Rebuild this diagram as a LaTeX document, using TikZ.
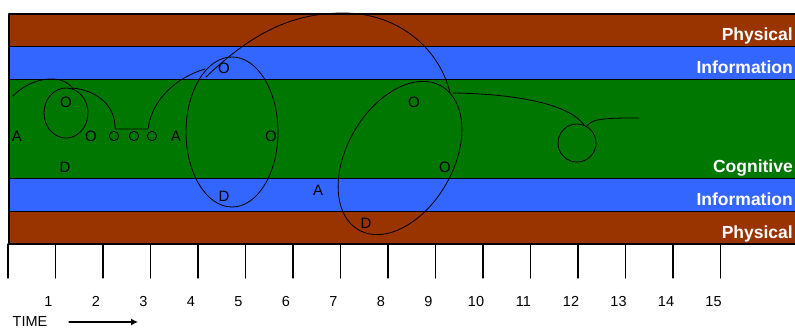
\documentclass[tikz,border=0pt]{standalone}
\usepackage{fontspec}
\setmainfont{Liberation Sans}
\usetikzlibrary{arrows.meta}
\definecolor{physbrown}{RGB}{153,51,0}
\definecolor{infoblue}{RGB}{51,102,255}
\definecolor{cogngreen}{RGB}{0,119,0}
\tikzset{
  band/.style={draw=black,line width=1.3pt},
  bandlabel/.style={anchor=base east,text=white,inner sep=0pt,font=\bfseries\fontsize{17.5}{18}\selectfont},
  actor/.style={inner sep=0pt,font=\fontsize{15}{16}\selectfont},
  ticklabel/.style={inner sep=0pt,font=\fontsize{14.5}{15}\selectfont},
  path/.style={line width=0.8pt},
}
\begin{document}
\begin{tikzpicture}[x=1pt,y=-1pt,line join=round,line cap=round]
    \clip (0,0) rectangle (795,329);
    \def\l{9}
    \def\r{800}
    % layers
    \draw[band,fill=physbrown] (\l,14) rectangle (\r,46.5);
    \draw[band,fill=infoblue] (\l,46.5) rectangle (\r,79.5);
    \draw[band,fill=cogngreen] (\l,79.5) rectangle (\r,178.5);
    \draw[band,fill=infoblue] (\l,178.5) rectangle (\r,211.5);
    \draw[band,fill=physbrown] (\l,211.5) rectangle (\r,244);
    \node[bandlabel] (phys1) at (793,40.5) {Physical};
    \node[bandlabel] (info1) at (793,73.3) {Information};
    \node[bandlabel] (cogn) at (793,172.7) {Cognitive};
    \node[bandlabel] (info2) at (793,205.7) {Information};
    \node[bandlabel] (phys2) at (793,238.3) {Physical};
    % time axis
    \foreach \i in {0,...,15}
        \draw[line width=1.3pt] ({8+47.5*\i},244) -- ({8+47.5*\i},278);
    \foreach \i in {1,...,15}
        \node[ticklabel] (t\i) at ({1+47.5*\i},301.5) {\i};
    \node[ticklabel] (time) at (30,321.5) {TIME};
    \coordinate (ts) at (69,322);
    \coordinate (te) at (138,322);
    \draw[line width=1.2pt,-{Latex[length=7pt,width=7pt]}] (ts) -- (te);
    % actors
    \node[actor] (a1) at (17,136) {A};
    \node[actor] (o1) at (66,102) {O};
    \node[actor] (o2) at (91,136) {O};
    \node[actor] (d1) at (65,167) {D};
    \node[actor] (a2) at (176,136) {A};
    \node[actor] (o3) at (224,68) {O};
    \node[actor] (o4) at (271,136) {O};
    \node[actor] (d2) at (224,196) {D};
    \node[actor] (a3) at (318,190) {A};
    \node[actor] (o5) at (414,102) {O};
    \node[actor] (o6) at (445,167) {O};
    \node[actor] (d3) at (366,223) {D};
    % small circles
    \foreach \x in {114,134,152}
        \draw[path] (\x,136) circle (4.7);
    % loops
    \coordinate (E1) at (66,113);
    \coordinate (E2) at (232,132);
    \coordinate (E3) at (400,158);
    \coordinate (E4) at (577,143);
    \draw[path] (E1) ellipse (22 and 25);
    \draw[path] (E2) ellipse (46 and 75);
    \draw[path,rotate around={60:(E3)}] (E3) ellipse (83 and 53);
    \draw[path] (E4) circle (19);
    \draw[path] (13,96) .. controls (30,78) and (62,72) .. (73,89);
    \draw[path] (72,88) .. controls (97,90) and (116,106) .. (115,129) -- (148,129)
        .. controls (152,100) and (175,78) .. (205,69);
    \draw[path] (206,77) .. controls (250,35) and (290,13) .. (343,13)
        .. controls (400,13) and (440,50) .. (450,93);
    \draw[path] (453,93) .. controls (520,94) and (570,105) .. (584,125);
    \draw[path] (587,126) .. controls (592,118) and (610,118) .. (639,118);
\end{tikzpicture}
\end{document}
